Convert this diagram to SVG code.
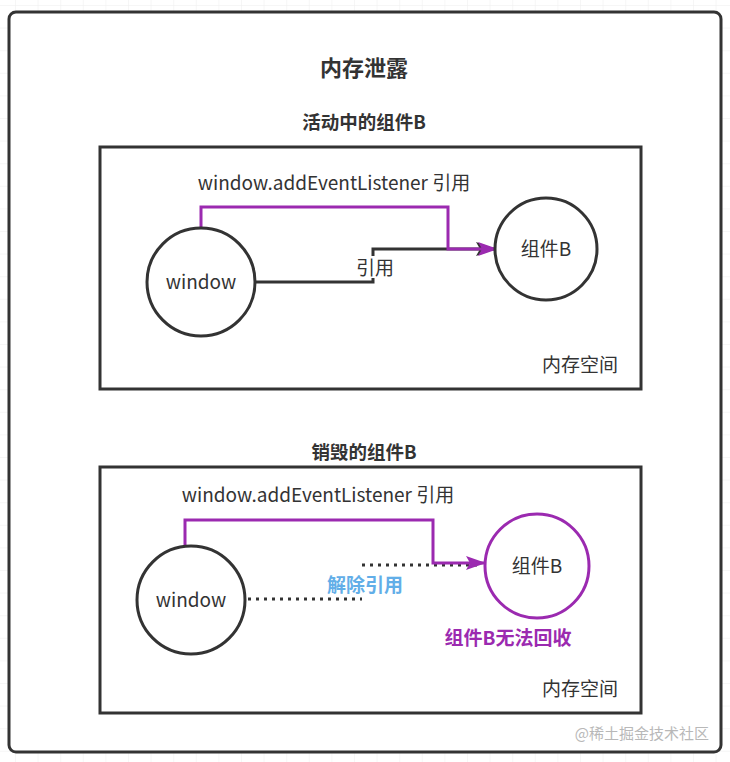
<svg xmlns="http://www.w3.org/2000/svg" width="730" height="762" viewBox="0 0 730 762">
<defs>
<pattern id="grid" x="15" y="5" width="22.6" height="22.6" patternUnits="userSpaceOnUse">
<path d="M0,0 H22.6 M0,0 V22.6" fill="none" stroke="#eeeeee" stroke-width="1"/>
</pattern>
<marker id="arrP" viewBox="0 0 20 14" refX="19" refY="7" markerWidth="20" markerHeight="14" markerUnits="userSpaceOnUse" orient="auto">
<path d="M0,0 L20,7 L0,14 L4,7 Z" fill="#9b2ab0"/>
</marker>
<marker id="arrK" viewBox="0 0 20 14" refX="19" refY="7" markerWidth="20" markerHeight="14" markerUnits="userSpaceOnUse" orient="auto">
<path d="M0,0 L20,7 L0,14 L4,7 Z" fill="#333"/>
</marker>
<style>
.t{font-family:"Noto Sans CJK SC","Noto Sans",sans-serif;fill:#333;}
.b{font-weight:bold;}
.box{fill:#fff;stroke:#333;stroke-width:3;}
.circ{fill:#fff;stroke:#333;stroke-width:3;}
.pur{fill:none;stroke:#9b2ab0;stroke-width:3;}
.blk{fill:none;stroke:#333;stroke-width:3;}
.dot{fill:none;stroke:#333;stroke-width:3;stroke-dasharray:3 5;}
</style>
</defs>
<rect width="730" height="762" fill="#fff"/>
<rect width="730" height="762" fill="url(#grid)"/>
<g id="outer">
<rect x="9" y="12" width="712" height="740" rx="7" class="box"/>
<text class="t b" x="364" y="76" font-size="22" text-anchor="middle">内存泄露</text>
</g>
<g id="section1">
<text class="t b" x="364" y="129" font-size="18.5" text-anchor="middle">活动中的组件B</text>
<rect x="100" y="147" width="541" height="242" class="box" stroke-width="3"/>
<text class="t" x="334" y="190" font-size="19" text-anchor="middle">window.addEventListener 引用</text>
<text class="t" x="580" y="372" font-size="19" text-anchor="middle">内存空间</text>
</g>
<g id="section2">
<text class="t b" x="364" y="459" font-size="18.5" text-anchor="middle">销毁的组件B</text>
<rect x="100" y="467" width="541" height="246" class="box"/>
<text class="t" x="318" y="502" font-size="19" text-anchor="middle">window.addEventListener 引用</text>
<text class="t" x="580" y="696" font-size="19" text-anchor="middle">内存空间</text>
</g>
<g id="connectors">
<path d="M256,282 H373 V249 H495" class="blk" marker-end="url(#arrK)"/>
<rect x="350" y="256" width="48" height="22" fill="#fff"/>
<text class="t" x="375" y="275" font-size="19" text-anchor="middle">引用</text>
<path d="M201,229 V207 H448 V249 H497" class="pur" marker-end="url(#arrP)"/>
<path d="M248,599 H362" class="dot"/>
<path d="M362,565 H478" class="dot"/>
<path d="M185,545 V520 H433 V563 H485" class="pur" marker-end="url(#arrP)"/>
<text class="t b" x="365" y="592" font-size="19" text-anchor="middle" style="fill:#62aee8">解除引用</text>
</g>
<g id="window1">
<circle cx="201" cy="282" r="54" class="circ"/>
<text class="t" x="201" y="289" font-size="19" text-anchor="middle">window</text>
</g>
<g id="compB1">
<circle cx="546" cy="249" r="51" class="circ"/>
<text class="t" x="546" y="256" font-size="19" text-anchor="middle">组件B</text>
</g>
<g id="window2">
<circle cx="191" cy="600" r="54" class="circ"/>
<text class="t" x="191" y="607" font-size="19" text-anchor="middle">window</text>
</g>
<g id="compB2">
<circle cx="537" cy="566" r="52" class="circ" style="stroke:#9b2ab0"/>
<text class="t" x="537" y="573" font-size="19" text-anchor="middle">组件B</text>
<text class="t b" x="508" y="645" font-size="19" text-anchor="middle" style="fill:#9b2ab0">组件B无法回收</text>
</g>
<text class="t" x="709" y="739" font-size="15" text-anchor="end" style="fill:#b8b8b8">@稀土掘金技术社区</text>
</svg>
